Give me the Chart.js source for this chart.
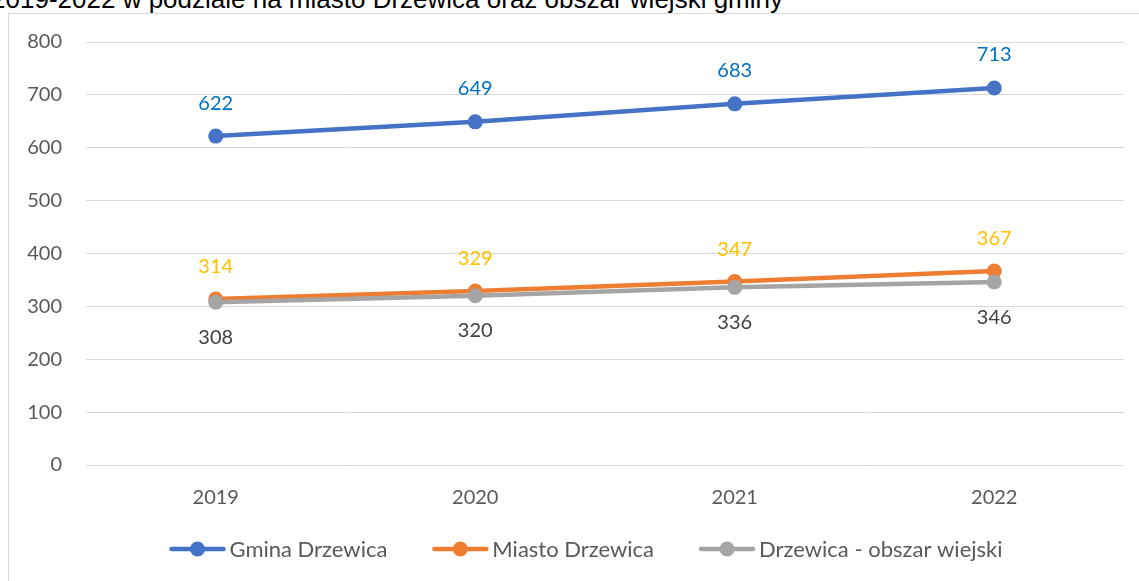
<!DOCTYPE html>
<html>
<head>
<meta charset="utf-8">
<script src="https://cdn.jsdelivr.net/npm/chart.js@4/dist/chart.umd.min.js"></script>
<style>
  html, body { margin: 0; padding: 0; background: #fff; overflow: hidden; }
  #wrap { position: relative; width: 1139px; height: 581px; overflow: hidden; }
  #frame { position: absolute; left: 8px; top: 13px; width: 1200px; height: 700px; border: 1px solid #d9d9d9; box-sizing: border-box; }
  #title { position: absolute; right: 356px; top: -14px; font: 26px/26px "Liberation Sans", Arial, sans-serif; color: #000; white-space: nowrap; }
  canvas { position: absolute; left: 0; top: 0; }
</style>
</head>
<body>
<div id="wrap">
  <div id="title">Liczba mieszkańców w latach 2019-2022 w podziale na miasto Drzewica oraz obszar wiejski gminy</div>
  <div id="frame"></div>
  <canvas id="c" width="1139" height="581"></canvas>
</div>
<script>
const categories = ["2019", "2020", "2021", "2022"];
const seriesNames = ["Gmina Drzewica", "Miasto Drzewica", "Drzewica - obszar wiejski"];
const gminaValues = [622, 649, 683, 713];
const miastoValues = [314, 329, 347, 367];
const wiejskiValues = [308, 320, 336, 346];
const yTicks = [0, 100, 200, 300, 400, 500, 600, 700, 800];

const FONT = "Lato, 'Open Sans', sans-serif";

const dataLabels = {
  id: "dataLabels",
  afterDatasetsDraw(chart) {
    const ctx = chart.ctx;
    ctx.save();
    ctx.font = "20px " + FONT;
    ctx.textAlign = "center";
    ctx.textBaseline = "middle";
    chart.data.datasets.forEach((ds, di) => {
      const meta = chart.getDatasetMeta(di);
      meta.data.forEach((el, i) => {
        ctx.fillStyle = ds.labelColor;
        ctx.fillText(String(ds.data[i]), el.x, el.y + ds.labelOffset);
      });
    });
    ctx.restore();
  }
};

const customLegend = {
  id: "customLegend",
  afterDraw(chart) {
    const ctx = chart.ctx;
    ctx.save();
    ctx.font = "22px " + FONT;
    ctx.textBaseline = "middle";
    const symW = 56, symGap = 4, itemGap = 45;
    const items = chart.data.datasets.map(ds => ({ ds, w: ctx.measureText(ds.label).width }));
    let total = 0;
    items.forEach((it, i) => { total += symW + symGap + it.w + (i < items.length - 1 ? itemGap : 0); });
    let x = 586 - total / 2;
    const y = 549;
    items.forEach(it => {
      ctx.strokeStyle = it.ds.borderColor;
      ctx.lineWidth = 4.5;
      ctx.lineCap = "round";
      ctx.beginPath();
      ctx.moveTo(x + 2, y);
      ctx.lineTo(x + symW - 2, y);
      ctx.stroke();
      ctx.fillStyle = it.ds.borderColor;
      ctx.beginPath();
      ctx.arc(x + symW / 2, y, 7.5, 0, Math.PI * 2);
      ctx.fill();
      ctx.fillStyle = "#595959";
      ctx.textAlign = "left";
      ctx.fillText(it.ds.label, x + symW + symGap, y + 1);
      x += symW + symGap + it.w + itemGap;
    });
    ctx.restore();
  }
};

function makeDataset(label, data, color, labelColor, labelOffset, order) {
  return {
    label, data,
    borderColor: color,
    backgroundColor: color,
    pointBackgroundColor: color,
    pointBorderColor: color,
    pointBorderWidth: 0,
    pointRadius: 7.5,
    pointHoverRadius: 7.5,
    borderWidth: 4.5,
    borderCapStyle: "round",
    tension: 0,
    fill: false,
    labelColor, labelOffset, order
  };
}

new Chart(document.getElementById("c"), {
  type: "line",
  data: {
    labels: categories,
    datasets: [
      makeDataset(seriesNames[0], gminaValues, "#4472C4", "#0070C0", -33, 2),
      makeDataset(seriesNames[1], miastoValues, "#ED7D31", "#FFC000", -32, 1),
      makeDataset(seriesNames[2], wiejskiValues, "#A5A5A5", "#404040", 35, 0)
    ]
  },
  options: {
    responsive: false,
    animation: false,
    devicePixelRatio: 1,
    layout: { padding: { top: 42, right: 15, bottom: 0, left: 0 } },
    plugins: { legend: { display: false }, tooltip: { enabled: false }, title: { display: false } },
    scales: {
      x: {
        offset: true,
        grid: { display: false },
        border: { display: false },
        ticks: { color: "#595959", font: { family: FONT, size: 20 }, padding: 13 },
        afterFit(s) { s.height = 116; }
      },
      y: {
        min: 0, max: 800,
        afterBuildTicks(s) { s.ticks = yTicks.map(v => ({ value: v })); },
        grid: { color: "#d9d9d9", lineWidth: 1, drawTicks: false },
        border: { display: false },
        ticks: { color: "#595959", font: { family: FONT, size: 20 }, padding: 24 },
        afterFit(s) { s.width = 86; }
      }
    }
  },
  plugins: [dataLabels, customLegend]
});
</script>
</body>
</html>
